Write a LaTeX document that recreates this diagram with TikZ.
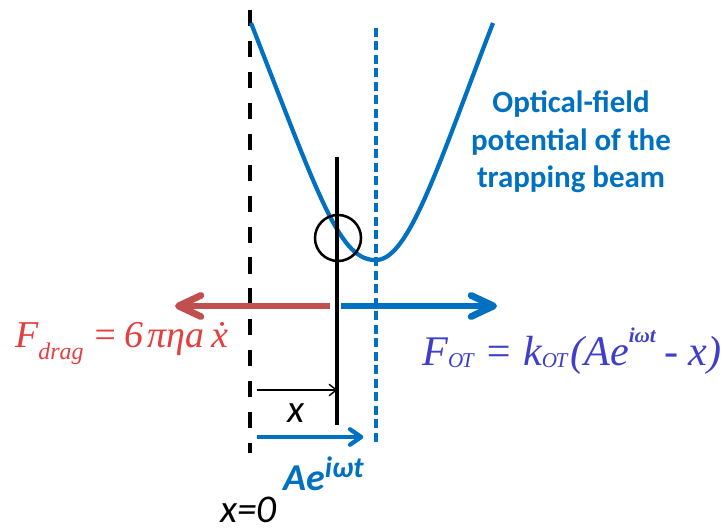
\documentclass[tikz,border=0pt]{standalone}
\usepackage{fontspec}
\setmainfont{Carlito}
\newfontfamily\timesfont{Liberation Serif}
\usetikzlibrary{arrows.meta}
\definecolor{beamblue}{RGB}{0,112,192}
\definecolor{dragred}{RGB}{192,80,77}
\definecolor{formred}{RGB}{228,62,62}
\definecolor{formblue}{RGB}{62,62,204}

\begin{document}
\begin{tikzpicture}[
  x=0.025cm, y=-0.025cm,
  force/.style={-{Straight Barb[round,length=16pt,width=15pt]}, line width=4.8pt},
  disp/.style={-{Straight Barb[round,length=5pt,width=8pt]}, line width=1pt},
  axis/.style={line width=3pt},
  lbl/.style={inner sep=0pt, font=\fontsize{28}{32}\selectfont\itshape},
  formula/.style={inner sep=0pt, anchor=base west},
]
\useasboundingbox (0,0) rectangle (723,531);
% reference lines
\coordinate (zeroTop) at (250,10);
\coordinate (zeroBot) at (250,453);
\coordinate (beamTop) at (376,28);
\coordinate (beamBot) at (376,445);
\coordinate (partTop) at (337,157);
\coordinate (partBot) at (337,425);
\draw[axis, dash pattern=on 11.4pt off 10.6pt] (zeroTop) -- (zeroBot);
\draw[axis, beamblue, line width=3.2pt, dash pattern=on 6.2pt off 3.4pt] (beamTop) -- (beamBot);
% trapping potential
\draw[beamblue, line width=3pt] (251,23) .. controls (320,200) and (340,262) .. (377,260)
  .. controls (410,258) and (440,160) .. (493,23);
\node[inner sep=0pt, align=center, text=beamblue, font=\fontsize{22}{26.5}\selectfont\bfseries]
  (potlabel) at (571,142) {Optical-field\\potential of the\\trapping beam};
% particle
\draw[line width=2.2pt] (partTop) -- (partBot);
\node[draw, circle, line width=1.8pt, minimum size=1.15cm, inner sep=0pt] (bead) at (338,238) {};
% forces
\coordinate (dragStart) at (330,306);
\coordinate (otStart) at (341,306);
\draw[force, dragred] (dragStart) -- (175,306) coordinate (dragTip);
\draw[force, beamblue] (otStart) -- (497,306) coordinate (otTip);
\node[formula, text=formred] (fdrag) at (15,347)
  {\timesfont\fontsize{27}{30}\selectfont\itshape F\raisebox{-9pt}{\fontsize{17}{17}\selectfont drag}\hspace{6pt}=\hspace{5pt}6\hspace{3pt}πηa\hspace{5pt}\.{x}};
\node[formula, text=formblue] (fot) at (422,365)
  {\timesfont\fontsize{30}{36}\selectfont\itshape F\raisebox{-2pt}{\fontsize{15}{15}\selectfont O\kern-1ptT} = k\raisebox{-2pt}{\fontsize{15}{15}\selectfont O\kern-1ptT}\hspace{2pt}(Ae\raisebox{16pt}{\fontsize{15}{15}\selectfont\bfseries iωt}\hspace{6pt}- x)};
% displacements
\coordinate (xStart) at (257,390);
\draw[disp] (xStart) -- (xStart -| partTop);
\node[lbl, anchor=base] (xlabel) at (296,422) {x};
\coordinate (aStart) at (257,437);
\draw[beamblue, line width=3pt, -{Straight Barb[round,length=8pt,width=11pt]}] (aStart) -- ([xshift=-9] aStart -| beamTop);
\node[formula, text=beamblue, font=\fontsize{27}{30}\selectfont\bfseries\itshape] (alabel) at (283,490)
  {Ae\raisebox{9pt}{\fontsize{21}{21}\selectfont iωt}};
\node[lbl, formula] (zerolabel) at (220,522) {x=0};
\end{tikzpicture}
\end{document}
